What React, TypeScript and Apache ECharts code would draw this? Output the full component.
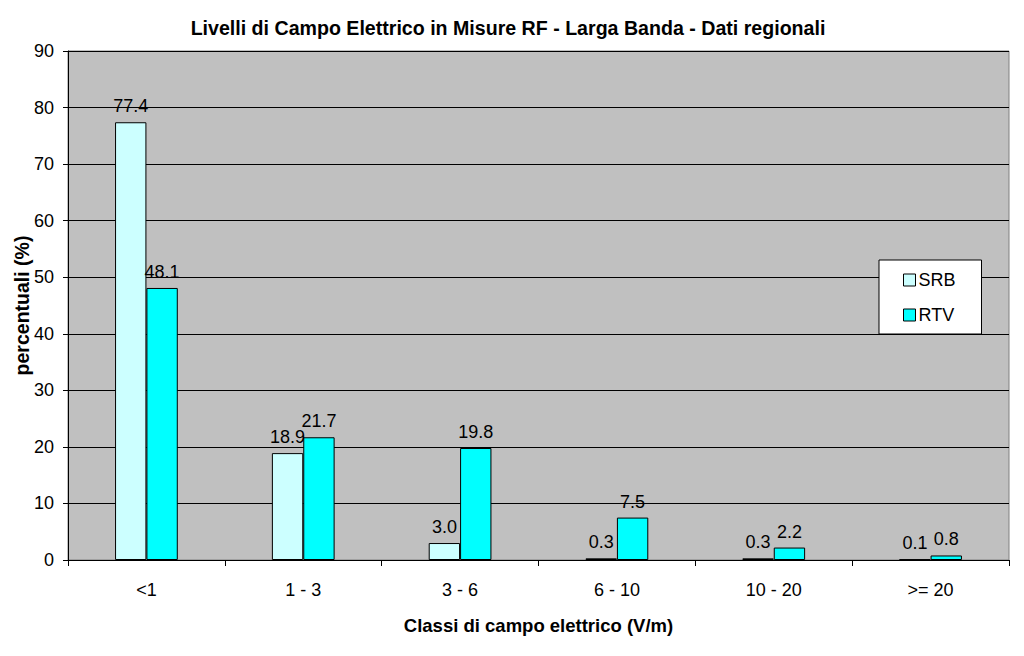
import React, { useEffect, useRef } from "react";
import * as echarts from "echarts";

const categories = ["<1", "1 - 3", "3 - 6", "6 - 10", "10 - 20", ">= 20"];
const srbValues = [77.4, 18.9, 3.0, 0.3, 0.3, 0.1];
const rtvValues = [48.1, 21.7, 19.8, 7.5, 2.2, 0.8];
const seriesNames = ["SRB", "RTV"];

const FONT = "'Liberation Sans', Arial, sans-serif";

export default function App() {
  const ref = useRef<HTMLDivElement>(null);
  useEffect(() => {
    if (!ref.current) return;
    const chart = echarts.init(ref.current, null, { renderer: "svg" });
    const label = {
      show: true,
      position: "top",
      distance: 7,
      color: "#000",
      fontFamily: FONT,
      fontSize: 18,
      formatter: (p: any) => Number(p.value).toFixed(1),
    };
    chart.setOption({
      animation: false,
      backgroundColor: "#fff",
      textStyle: { fontFamily: FONT },
      title: {
        text: "Livelli di Campo Elettrico in Misure RF - Larga Banda - Dati regionali",
        left: 503,
        textAlign: "center",
        top: 13,
        textStyle: { fontFamily: FONT, fontSize: 19.6, fontWeight: "bold", color: "#000" },
      },
      legend: {
        orient: "vertical",
        left: 879,
        top: 260,
        width: 104,
        data: seriesNames,
        backgroundColor: "#fff",
        borderColor: "#000",
        borderWidth: 1,
        padding: [11, 26, 10, 24],
        itemGap: 17,
        itemWidth: 12,
        itemHeight: 12,
        icon: "rect",
        textStyle: { fontFamily: FONT, fontSize: 18, color: "#000", padding: [0, 0, 0, -2] },
        itemStyle: { borderColor: "#000", borderWidth: 1 },
      },
      grid: {
        left: 68,
        right: 15,
        top: 51,
        bottom: 96,
        containLabel: false,
        outerBoundsMode: "none",
        show: true,
        backgroundColor: "#C0C0C0",
        borderColor: "#808080",
        borderWidth: 1,
      },
      xAxis: {
        type: "category",
        data: categories,
        name: "Classi di campo elettrico (V/m)",
        nameLocation: "middle",
        nameGap: 56,
        nameMoveOverlap: false,
        nameTextStyle: { fontFamily: FONT, fontSize: 18.5, fontWeight: "bold", color: "#000" },
        axisLine: { lineStyle: { color: "#000", width: 1 } },
        axisTick: { show: true, length: 6, lineStyle: { color: "#000" } },
        axisLabel: { fontFamily: FONT, fontSize: 18, color: "#000", margin: 21 },
      },
      yAxis: {
        type: "value",
        min: 0,
        max: 90,
        interval: 10,
        name: "percentuali (%)",
        nameLocation: "middle",
        nameGap: 36,
        nameMoveOverlap: false,
        nameRotate: 90,
        nameTextStyle: { fontFamily: FONT, fontSize: 19.5, fontWeight: "bold", color: "#000" },
        axisLine: { show: true, lineStyle: { color: "#000", width: 1 } },
        axisTick: { show: true, length: 5, lineStyle: { color: "#000" } },
        axisLabel: { fontFamily: FONT, fontSize: 18, color: "#000", margin: 14 },
        splitLine: { show: true, lineStyle: { color: "#000", width: 1 } },
      },
      series: [
        {
          name: seriesNames[0],
          type: "bar",
          data: srbValues,
          barGap: "0%",
          barCategoryGap: "60%",
          itemStyle: { color: "#CCFFFF", borderColor: "#000", borderWidth: 1 },
          label,
        },
        {
          name: seriesNames[1],
          type: "bar",
          data: rtvValues,
          barGap: "0%",
          barCategoryGap: "60%",
          itemStyle: { color: "#00FFFF", borderColor: "#000", borderWidth: 1 },
          label,
        },
      ],
    });
    return () => chart.dispose();
  }, []);
  return <div ref={ref} style={{ width: 1024, height: 656, position: "absolute", left: 0, top: 0 }} />;
}
